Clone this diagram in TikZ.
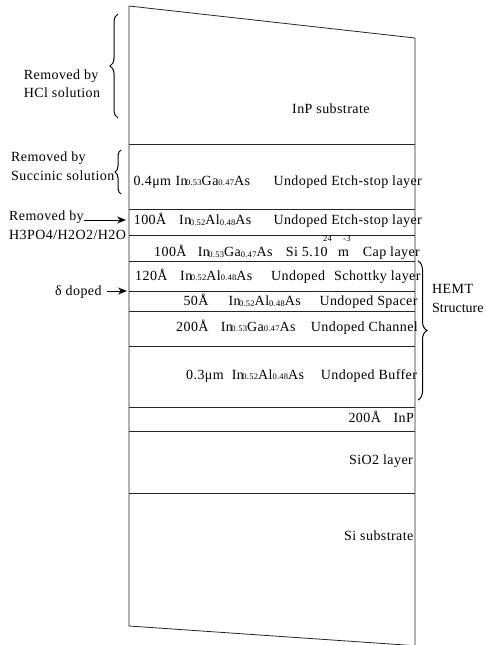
\documentclass[tikz,border=0pt]{standalone}
\usepackage{fontspec}
\setmainfont[LetterSpace=3]{Liberation Serif}
\newfontfamily\tightfont{Liberation Serif}
\usetikzlibrary{arrows.meta,decorations.pathreplacing}
\newcommand{\lsub}[1]{\raisebox{-0.8pt}{\fontsize{8.5}{9}\selectfont #1}}
\newcommand{\InGa}{In\kern-1.5pt\lsub{0.53}Ga\lsub{0.47}As}
\newcommand{\InAl}{In\kern-1.5pt\lsub{0.52}Al\lsub{0.48}As}
\begin{document}
\begin{tikzpicture}[x=1pt,y=-1pt,
  every node/.style={inner sep=0pt, font=\fontsize{14}{16}\selectfont},
  lbl/.style={anchor=base west},
  sup/.style={anchor=base west, font=\fontsize{8.5}{9}\selectfont},
  edge/.style={line width=0.8pt, black!85},
  arr/.style={-{Stealth[length=9pt,width=7pt]}, line width=1pt},
  brc/.style={decorate, decoration={brace, amplitude=#1}, line width=1pt},
  brc/.default=8]
\useasboundingbox (0,0) rectangle (486,645);
% outline
\draw[edge] (129,6) -- (415,38) -- (415,647);
\draw[edge] (129,6) -- (129,626) -- (415,645.7);
\foreach \yy in {144,209,235,261,291,311,346,407,431,493}
  \draw[edge] (129,\yy) -- (415,\yy);
% layer texts
\node[lbl] (sub) at (292,113.7) {InP substrate};
\node[lbl] (e1a) at (133.3,185) {0.4μm};
\node[lbl] (e1b) at (175.3,185) {\InGa};
\node[lbl] (e1c) at (273.3,185) {Undoped Etch-stop layer};
\node[lbl] (e2a) at (133.7,224.3) {100Å};
\node[lbl] (e2b) at (179,224.3) {\InAl};
\node[lbl] (e2c) at (273.3,224.3) {Undoped Etch-stop layer};
\node[lbl] (c1) at (154,256.7) {100Å};
\node[lbl] (c2) at (197.7,256.7) {\InGa};
\node[lbl] (c3) at (285.7,256.7) {Si 5.10};
\node[sup] (c4) at (323,241) {24};
\node[lbl] (c5) at (338,256.7) {m};
\node[sup] (c6) at (343,241) {-3};
\node[lbl] (c7) at (362.7,256.7) {Cap layer};
\node[lbl] (s1) at (135,280) {120Å};
\node[lbl] (s2) at (180,280) {\InAl};
\node[lbl] (s3) at (271,280) {Undoped};
\node[lbl] (s4) at (334,280) {Schottky layer};
\node[lbl] (p1) at (183.3,305.5) {50Å};
\node[lbl] (p2) at (228.3,305.5) {\InAl};
\node[lbl] (p3) at (319.3,305.5) {Undoped Spacer};
\node[lbl] (h1) at (176,331) {200Å};
\node[lbl] (h2) at (220.7,331) {\InGa};
\node[lbl] (h3) at (310.7,331) {Undoped Channel};
\node[lbl] (b1) at (186,379) {0.3μm};
\node[lbl] (b2) at (231.7,379) {\InAl};
\node[lbl] (b3) at (320.7,379) {Undoped Buffer};
\node[lbl] (i1) at (348.3,422) {200Å};
\node[lbl] (i2) at (393.3,422) {InP};
\node[lbl] (ox) at (349,464) {SiO2 layer};
\node[lbl] (si) at (344,540) {Si substrate};
% left annotations
\node[lbl] (r1a) at (23.7,79) {Removed by};
\node[lbl] (r1b) at (23.7,97) {HCl solution};
\draw[brc=8] (118,118) -- (118,14);
\node[lbl] (r2a) at (11,161.7) {Removed by};
\node[lbl] (r2b) at (11,180.7) {Succinic solution};
\draw[brc=6] (121,194) -- (121,150);
\node[lbl] (r3a) at (9,220) {Removed by};
\node[lbl] (r3b) at (9,239) {H3PO4/H2O2/H2O};
\coordinate (r3t) at (126,220);
\draw[arr] (r3a.base east) -- (r3t);
\node[lbl] (dd) at (55,295) {δ doped};
\coordinate (ddt) at (127,291);
\draw[arr] ([xshift=5pt]ddt -| dd.east) -- (ddt);
% HEMT brace
\draw[brc=9] (418,261) -- (418,400);
\node[lbl] (hm1) at (432,293) {HEMT};
\node[lbl, font=\tightfont\fontsize{14}{16}\selectfont] (hm2) at (432,312.7) {Structure};
\end{tikzpicture}
\end{document}
